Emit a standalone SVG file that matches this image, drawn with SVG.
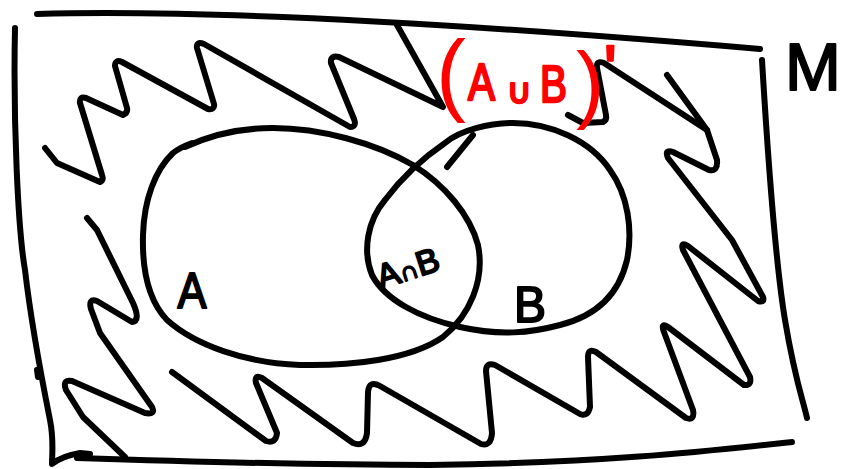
<svg xmlns="http://www.w3.org/2000/svg" width="843" height="469" viewBox="0 0 843 469">
<style>
.ink{fill:none;stroke:#000;stroke-width:6;stroke-linecap:round;stroke-linejoin:round}
.lbl{font-family:"Liberation Sans","DejaVu Sans",sans-serif;fill:#000;stroke:#000;stroke-width:2;stroke-linejoin:round}
.red{font-family:"Liberation Sans","DejaVu Sans",sans-serif;fill:#f00;stroke:#f00;stroke-width:2.5;stroke-linejoin:round}
.paren{stroke:none}
</style>
<rect width="843" height="469" fill="#fff"/>
<g id="frame" class="ink">
<path d="M37,14 C180,10 420,20 760,49"/>
<path d="M15,28 C13,120 18,230 25,270 C32,330 42,380 50,420 C54,440 52,455 52,464 Q62,456 80,453 L90,454"/>
<path d="M37,370 L38,377"/>
<path d="M77,458 C200,462 330,465 430,465 C600,463 700,452 792,442"/>
<path d="M762,60 C768,160 775,260 785,320 C795,380 803,400 807,418"/>
</g>
<g id="shading" class="ink">
<path d="M45,148 L57,163 L100,182 Q104,180 102,175 L80,103 Q79,96 86,98 L123,115 Q128,113 127,108 L115,66 Q115,59 122,62 L208,109 Q215,110 214,104 L197,48 Q196,41 204,44 L350,127 Q357,127 354,119 L331,63 Q330,55 339,57 L443,107 L397,25"/>
<path d="M568,115 L583,123 L603,122 Q607,120 606,115 L597,68 Q596,60 604,63 L707,130"/>
<path d="M667,75 L707,130 L717,160 Q718,172 709,170 L673,152 Q664,149 668,158 L732,240 L763,297 Q765,303 758,301 L688,246 Q680,241 683,250 L750,377 Q752,386 744,385 L668,327 Q660,322 664,332 L693,410 Q695,421 686,418 L596,352 Q588,348 588,357 L590,407 Q588,417 580,414 L495,365 Q486,362 486,371 L492,433 Q491,447 481,444 L380,386 Q369,380 368,392 L367,433 Q365,448 353,443 L262,378 Q254,374 256,383 L277,433 Q276,444 266,441 L172,372"/>
<path d="M87,218 L97,230 L133,303 Q141,321 132,322 L97,301 Q88,298 91,309 L100,333 L152,407 Q156,415 145,413 L72,381 Q62,379 66,390 L83,417 L125,457"/>
</g>
<g id="setA" class="ink">
<path d="M185,147 C215,133 245,128 273,128 C320,128 375,143 413,165 C445,185 470,215 478,245 C485,280 470,315 443,337 C410,360 350,366 300,365 C245,363 195,345 167,320 C148,300 142,270 143,235 C144,200 155,170 173,153 C178,149 184,146 192,143"/>
</g>
<g id="setB" class="ink">
<path d="M445,143 C460,130 490,123 513,123 C550,123 590,140 610,170 C628,195 633,230 627,260 C620,290 600,315 560,325 C530,333 500,336 460,327 C420,318 385,300 372,275 C362,250 368,220 385,200 C400,180 420,160 445,143"/>
<path d="M447,167 L473,135"/>
</g>
<g id="labels">
<text class="lbl" x="192" y="308" font-size="50" text-anchor="middle" textLength="29" lengthAdjust="spacingAndGlyphs">A</text>
<text class="lbl" x="530" y="322" font-size="50" text-anchor="middle" textLength="32" lengthAdjust="spacingAndGlyphs">B</text>
<text class="lbl" transform="translate(381,289) rotate(-18)" font-size="34">A<tspan font-size="26">∩</tspan>B</text>
<text class="lbl" x="785" y="90" font-size="67">M</text>
</g>
<g id="complement-label">
<text class="red"><tspan class="paren" x="436" y="104" font-size="90">(</tspan><tspan x="468" y="100" font-size="52" textLength="27" lengthAdjust="spacingAndGlyphs">A</tspan><tspan x="507" y="103" font-size="34">∪</tspan><tspan x="540" y="102" font-size="52" textLength="27" lengthAdjust="spacingAndGlyphs">B</tspan><tspan class="paren" x="576" y="112" font-size="85">)</tspan><tspan x="604" y="92" font-size="66">'</tspan></text>
</g>
</svg>
